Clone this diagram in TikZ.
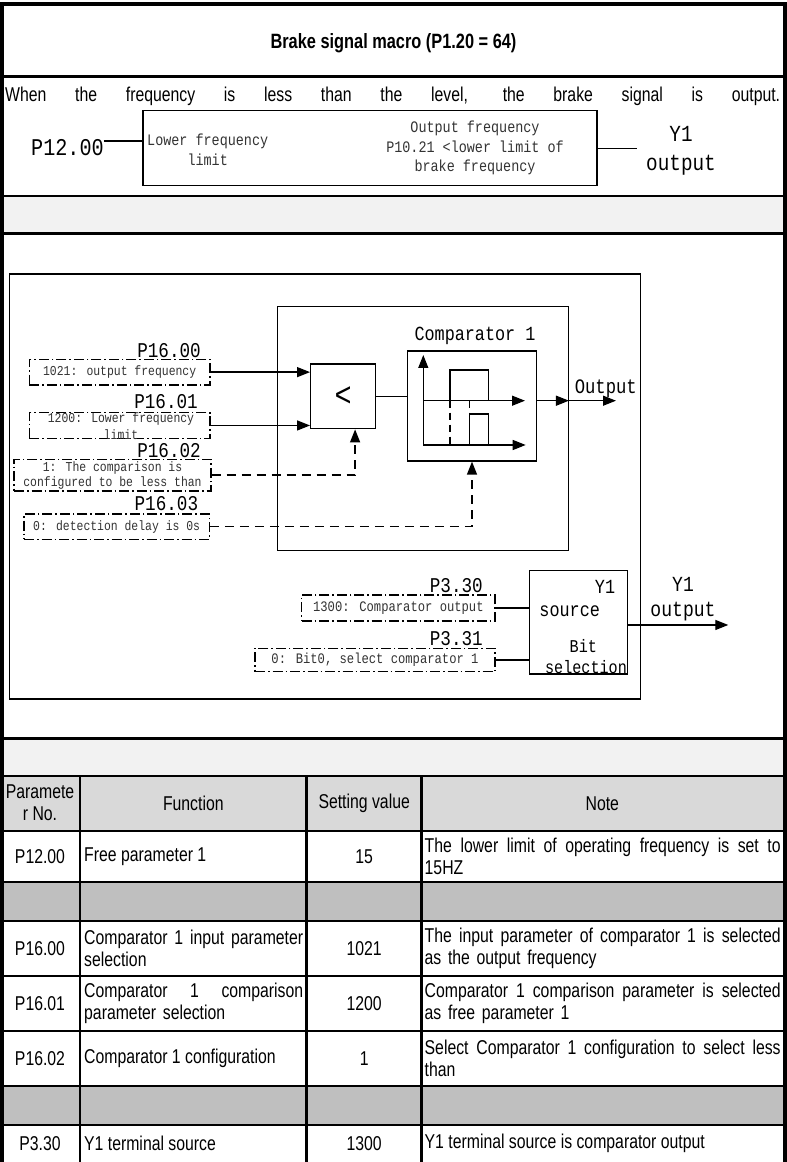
\documentclass[tikz,border=0pt]{standalone}
\usepackage{fontspec}
\usetikzlibrary{arrows.meta}
\newfontfamily\cellfont{Liberation Sans}[FakeStretch=0.79]
\newfontfamily\simfont{Liberation Mono}[FakeStretch=0.84]
\newcommand{\fillline}[1]{\makebox[\linewidth][s]{\spaceskip=0pt\relax#1}}
\definecolor{pcFFFFFF}{HTML}{FFFFFF}
\definecolor{pc000000}{HTML}{000000}
\definecolor{pc333333}{HTML}{333333}
\definecolor{pcF2F2F2}{HTML}{F2F2F2}
\definecolor{pcD9D9D9}{HTML}{D9D9D9}
\definecolor{pcBFBFBF}{HTML}{BFBFBF}
\tikzset{
  wire/.style={line width=1.3bp, color=pc000000},
  arr/.style={-{Triangle[length=13bp,width=10bp]}},
  dashwire/.style={dash pattern=on 9bp off 6bp},
  blockbox/.style={draw=pc000000, line width=1.3bp, inner sep=0},
  parambox/.style={draw=pc000000, line width=1.3bp, dash pattern=on 10bp off 3bp on 1.5bp off 3bp,
    inner sep=0, align=center, text=pc333333, font=\simfont\fontsize{13.6bp}{15bp}\selectfont},
  paramlbl/.style={anchor=base east, inner sep=0, font=\simfont\fontsize{21bp}{24bp}\selectfont},
  boxtext/.style={inner sep=0, align=center, text=pc000000},
  cell/.style={inner sep=0, text=pc000000, font=\cellfont\fontsize{20bp}{22bp}\selectfont},
}

\begin{document}
\begin{tikzpicture}
\path[use as bounding box] (0bp,0bp) rectangle (787bp,1162bp);
\path[fill=pcFFFFFF] (0bp,0bp) rectangle (787bp,1162bp);
\path[fill=pcF2F2F2] (2bp,928.7bp) rectangle (785bp,966bp);
\path[fill=pcF2F2F2] (2bp,386bp) rectangle (785bp,423.7bp);
\path[fill=pcD9D9D9] (2bp,331bp) rectangle (785bp,386bp);
\path[fill=pcBFBFBF] (2bp,241bp) rectangle (785bp,280bp);
\path[fill=pcBFBFBF] (2bp,37bp) rectangle (785bp,76bp);
\draw[line width=2.7bp, color=pc000000] (2bp,1085.3bp) -- (785bp,1085.3bp);
\draw[line width=1.3bp, color=pc000000] (2bp,966bp) -- (785bp,966bp);
\draw[line width=2.7bp, color=pc000000] (2bp,928.7bp) -- (785bp,928.7bp);
\draw[line width=2.7bp, color=pc000000] (2bp,423.7bp) -- (785bp,423.7bp);
\draw[line width=2.7bp, color=pc000000] (2bp,386bp) -- (785bp,386bp);
\draw[line width=2.7bp, color=pc000000] (2bp,331bp) -- (785bp,331bp);
\draw[line width=2.7bp, color=pc000000] (2bp,280bp) -- (785bp,280bp);
\draw[line width=2.7bp, color=pc000000] (2bp,241bp) -- (785bp,241bp);
\draw[line width=2.7bp, color=pc000000] (2bp,186bp) -- (785bp,186bp);
\draw[line width=2.7bp, color=pc000000] (2bp,131bp) -- (785bp,131bp);
\draw[line width=2.7bp, color=pc000000] (2bp,76bp) -- (785bp,76bp);
\draw[line width=2.7bp, color=pc000000] (2bp,37bp) -- (785bp,37bp);
\draw[line width=2.7bp, color=pc000000] (80bp,386bp) -- (80bp,0bp);
\draw[line width=2.7bp, color=pc000000] (306.7bp,386bp) -- (306.7bp,0bp);
\draw[line width=2.7bp, color=pc000000] (421.7bp,386bp) -- (421.7bp,0bp);
\draw[line width=4bp, color=pc000000] (2bp,0bp) -- (2bp,1158bp) -- (784.5bp,1158bp) -- (784.5bp,0bp);

\node[cell, anchor=base, font=\cellfont\bfseries\fontsize{20.7bp}{22bp}\selectfont] (title) at (393.5bp,1113.7bp) {Brake signal macro (P1.20 = 64)};
\node[cell, anchor=base west] (intro) at (5bp,1060.3bp) {\makebox[775bp][s]{When the frequency is less than the level, the brake signal is output.}};
\node[blockbox, line width=1.6bp, minimum width=454bp, minimum height=75bp] (topbox) at (369.7bp,1013.8bp) {};
\node[boxtext, text=pc333333, font=\simfont\fontsize{16bp}{19.3bp}\selectfont] (lowtxt) at (207.7bp,1012.3bp) {Lower frequency\\limit};
\node[boxtext, text=pc333333, font=\simfont\fontsize{16bp}{19.7bp}\selectfont] (outtxt) at (475bp,1014bp) {Output frequency\\P10.21 <lower limit of\\brake frequency};
\node[boxtext, font=\simfont\fontsize{24bp}{28bp}\selectfont] (p1200) at (67.5bp,1014bp) {P12.00};
\node[boxtext, font=\simfont\fontsize{23bp}{28.3bp}\selectfont] (topy) at (681bp,1011.2bp) {Y1\\output};
\coordinate (topyend) at (636.7bp,1013.8bp);
\draw[wire] ([yshift=7bp]p1200.east) -- ([yshift=7bp]p1200.east -| topbox.west);
\draw[wire] (topbox.east) -- (topyend);

\draw[wire] (9.3bp,463bp) rectangle (640.5bp,888bp);
\node[blockbox, minimum width=290.8bp, minimum height=244bp] (block) at (422.9bp,733.3bp) {};
\node[blockbox, minimum width=64.8bp, minimum height=64.7bp, font=\simfont\fontsize{34bp}{34bp}\selectfont] (less) at (343.1bp,765.65bp) {<};
\node[blockbox, minimum width=128.6bp, minimum height=110bp] (cmp) at (472bp,756bp) {};
\node[boxtext, anchor=base, font=\simfont\fontsize{20bp}{24bp}\selectfont] (cmplbl) at (475bp,821bp) {Comparator 1};
\draw[wire, arr] (423.3bp,717bp) -- (423.3bp,807bp);
\draw[wire, arr] (423.3bp,761.3bp) -- (525bp,761.3bp);
\draw[wire, arr] (423.3bp,717bp) -- (525.7bp,717bp);
\draw[wire] (450bp,761.3bp) -- (450bp,792bp) -- (488.3bp,792bp) -- (488.3bp,761.3bp);
\draw[wire] (469.3bp,717bp) -- (469.3bp,748bp) -- (488.3bp,748bp) -- (488.3bp,717bp);
\draw[wire, dash pattern=on 7bp off 5bp] (450bp,761.3bp) -- (450bp,717bp);
\draw[wire, dash pattern=on 7bp off 5bp] (469.3bp,761.3bp) -- (469.3bp,748bp);
\coordinate (outtip) at (616bp,761.3bp);
\draw[wire] (less.east) -- (cmp.west |- less.east);
\draw[wire, arr] (cmp.east |- outtip) -- (block.east |- outtip);
\draw[wire, arr] (block.east |- outtip) -- (outtip);
\node[boxtext, anchor=base, font=\simfont\fontsize{20.5bp}{24bp}\selectfont] (outlbl) at (605.8bp,768.5bp) {Output};

\node[parambox, minimum width=180.7bp, minimum height=25.7bp] (in1) at (119.65bp,789.85bp) {1021: output frequency};
\node[parambox, minimum width=180.7bp, minimum height=25.6bp] (in2) at (119.65bp,736.5bp) {};
\node[boxtext, text=pc333333, font=\simfont\fontsize{13.6bp}{16.7bp}\selectfont] (in2txt) at (121bp,736bp) {1200: Lower frequency\\limit};
\node[parambox, minimum width=197bp, minimum height=31.7bp] (in3) at (112.5bp,686.85bp) {1: The comparison is\\configured to be less than};
\node[parambox, minimum width=185.3bp, minimum height=25.3bp] (in4) at (116.65bp,635.35bp) {0: detection delay is 0s};
\node[paramlbl] (lbl1600) at (201bp,804.7bp) {P16.00};
\node[paramlbl] (lbl1601) at (198bp,753.5bp) {P16.01};
\node[paramlbl] (lbl1602) at (201bp,704.3bp) {P16.02};
\node[paramlbl] (lbl1603) at (198.3bp,651.7bp) {P16.03};
\draw[wire, arr] (in1.east) -- (less.west |- in1.east);
\draw[wire, arr] (in2.east) -- (less.west |- in2.east);
\draw[wire, dashwire, arr] (in3.east) -| ([xshift=12bp]less.south);
\draw[wire, dashwire, arr] (in4.east) -| (cmp.south);

\node[parambox, minimum width=193.3bp, minimum height=26bp, font=\simfont\fontsize{14.5bp}{16bp}\selectfont] (src1) at (398.35bp,554bp) {1300: Comparator output};
\node[parambox, minimum width=240bp, minimum height=23.4bp, font=\simfont\fontsize{14.5bp}{16bp}\selectfont] (src2) at (375bp,502bp) {0: Bit0, select comparator 1};
\node[paramlbl] (lbl330) at (483bp,569bp) {P3.30};
\node[paramlbl] (lbl331) at (483bp,516bp) {P3.31};
\node[blockbox, minimum width=98bp, minimum height=103.3bp] (ysrc) at (578.3bp,539.65bp) {};
\node[boxtext, font=\simfont\fontsize{20bp}{24bp}\selectfont] (ysrcy) at (605bp,575.3bp) {Y1};
\node[boxtext, font=\simfont\fontsize{20bp}{24bp}\selectfont] (ysrcs) at (569.7bp,550.3bp) {source};
\node[boxtext, font=\simfont\fontsize{18bp}{22bp}\selectfont] (ysrcb) at (583.3bp,516bp) {Bit};
\node[boxtext, font=\simfont\fontsize{18bp}{22bp}\selectfont] (ysrcsel) at (586bp,494.7bp) {selection};
\coordinate (ytip) at (728.3bp,537bp);
\draw[wire] (src1.east) -- (ysrc.west |- src1.east);
\draw[wire] (src2.east) -- (ysrc.west |- src2.east);
\draw[wire, arr] (ysrc.east |- ytip) -- (ytip);
\node[boxtext, font=\simfont\fontsize{21.5bp}{25bp}\selectfont] (y1out) at (683bp,562.8bp) {Y1\\output};

\node[cell, align=center] (hpar) at (40bp,359.5bp) {Paramete\\r No.};
\node[cell] (hfun) at (193.3bp,358.5bp) {Function};
\node[cell] (hval) at (364.2bp,358.5bp) {Setting value};
\node[cell] (hnote) at (602.3bp,358.5bp) {Note};

\node[cell] (p12par) at (40bp,305.5bp) {P12.00};
\node[cell, anchor=west] (p12fun) at (84bp,305.5bp) {Free parameter 1};
\node[cell] (p12val) at (364.2bp,305.5bp) {15};
\node[cell, anchor=west, text width=356bp, align=left] (p12note) at (424.5bp,305.5bp) {\fillline{The lower limit of operating frequency is set to}\\15HZ};

\node[cell] (p1600par) at (40bp,213.5bp) {P16.00};
\node[cell, anchor=west, text width=219bp, align=left] (p1600fun) at (84bp,213.5bp) {\fillline{Comparator 1 input parameter}\\selection};
\node[cell] (p1600val) at (364.2bp,213.5bp) {1021};
\node[cell, anchor=west, text width=356bp, align=left] (p1600note) at (424.5bp,213.5bp) {\fillline{The input parameter of comparator 1 is selected}\\as the output frequency};

\node[cell] (p1601par) at (40bp,158.5bp) {P16.01};
\node[cell, anchor=west, text width=219bp, align=left] (p1601fun) at (84bp,158.5bp) {\fillline{Comparator 1 comparison}\\parameter selection};
\node[cell] (p1601val) at (364.2bp,158.5bp) {1200};
\node[cell, anchor=west, text width=356bp, align=left] (p1601note) at (424.5bp,158.5bp) {\fillline{Comparator 1 comparison parameter is selected}\\as free parameter 1};

\node[cell] (p1602par) at (40bp,103.5bp) {P16.02};
\node[cell, anchor=west] (p1602fun) at (84bp,103.5bp) {Comparator 1 configuration};
\node[cell] (p1602val) at (364.2bp,103.5bp) {1};
\node[cell, anchor=west, text width=356bp, align=left] (p1602note) at (424.5bp,103.5bp) {\fillline{Select Comparator 1 configuration to select less}\\than};

\node[cell] (p330par) at (40bp,18.3bp) {P3.30};
\node[cell, anchor=west] (p330fun) at (84bp,18.3bp) {Y1 terminal source};
\node[cell] (p330val) at (364.2bp,18.3bp) {1300};
\node[cell, anchor=west] (p330note) at (424.5bp,18.3bp) {Y1 terminal source is comparator output};
\end{tikzpicture}
\end{document}
